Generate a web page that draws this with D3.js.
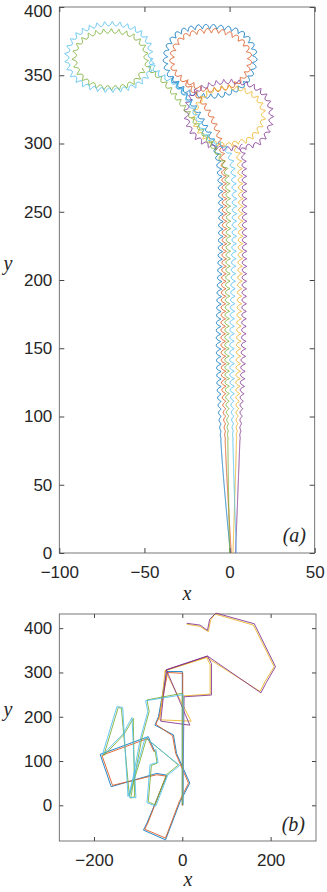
<!DOCTYPE html>
<html>
<head>
<meta charset="utf-8">
<script src="https://cdn.jsdelivr.net/npm/d3@7"></script>
<style>
    body { margin: 0; background: #fff; }
    svg { display: block; }
    .tick text { font-family: "Liberation Sans", Arial, sans-serif; font-size: 17px; fill: #262626; }
    .tick line { stroke: #444; }
    .domain { stroke: none; }
    .lbl { font-family: "Liberation Serif", "DejaVu Serif", serif; font-style: italic; font-size: 20px; fill: #262626; }
</style>
</head>
<body>
<svg id="chart" width="327" height="892"></svg>
<script>
// MATLAB default line colours, plot order
const colors = ["#0072BD", "#D95319", "#EDB120", "#7E2F8E", "#77AC30", "#4DBEEE"];

// panel (a): x, y points read along each trajectory (first point = start)
const aBlue = [[0.5, 0], [-5, 80], [-6.5, 150], [-7, 290], [-15, 315], [-24, 333], [-31, 343], [-37, 355], [-37, 368], [-31, 380], [-20, 385], [-5, 385], [7, 381], [14, 370], [14, 355], [8, 343], [-3, 336], [-15, 335], [-26, 339], [-33, 348]];
const aOrange = [[1, 0], [-2.5, 80], [-3.7, 150], [-4.5, 295], [-10, 318], [-18, 334], [-26, 345], [-33, 355], [-33, 368], [-27, 378], [-17, 382], [-5, 382], [5, 377], [11, 368], [11, 355], [5, 345], [-5, 340], [-16, 340], [-25, 346]];
const aYellow = [[2, 0], [4, 80], [5.3, 150], [5.5, 290], [3, 300], [10, 302], [17, 310], [20, 320], [17, 332], [8, 339.5], [-3, 341], [-13, 337], [-19, 328], [-21, 318], [-16, 306], [-8, 300], [2, 299]];
const aPurple = [[3.5, 0], [6, 80], [8.2, 150], [8.5, 288], [8, 296], [17, 300], [23, 310], [24.5, 322], [21, 335], [12, 343], [0, 345.5], [-12, 343], [-22, 336], [-25.5, 322], [-22, 308], [-13, 299], [-1, 296], [8, 298]];
const aGreen = [[0, 0], [-1, 80], [-1.5, 150], [-2, 280], [-5, 289], [-11, 300], [-25, 324], [-39, 346], [-48, 357], [-50, 370], [-57, 379], [-70, 382.5], [-83, 379], [-90, 370], [-91, 360], [-87, 349], [-78, 342], [-65, 341], [-55, 346], [-50, 355]];
const aCyan = [[4, 0], [2, 80], [1.4, 150], [1.5, 285], [-2.5, 297], [-13, 305], [-20, 322], [-30, 342], [-42, 352], [-46, 360], [-47, 372], [-53, 382], [-65, 387.5], [-80, 386], [-91, 378], [-95.6, 365], [-93, 351], [-84, 342], [-70, 339], [-56, 342], [-48, 350], [-45, 362]];

// panel (b)
const bBlue = [[0, 0], [0, 302], [-35, 302], [-45, 250], [-54, 200], [-62, 181], [-20, 159], [-13, 117], [17, 50], [-5, 8], [-38, -78], [-88, -56], [-80, -40], [-35, 68], [-58, 72], [-161, 42], [-186, 115], [-77, 155], [-62, 121]];
const bOrange = [[1, 0], [1, 298], [-33, 300], [-43, 250], [-52, 200], [-60, 183], [-22, 157], [-15, 117], [14, 50], [-7, 8], [-38, -74], [-85, -54], [-78, -40], [-37, 66], [-58, 69], [-158, 45], [-182, 113], [-78, 151], [-64, 121]];
const bYellow = [[0, 0], [2, 247], [63, 251], [63, 318], [55, 334], [-39, 304], [-51, 193], [20, 190], [-39, 304], [55, 334], [176, 257], [187, 279], [208, 313], [161, 407], [74, 432], [64, 418], [59, 392], [40, 404], [10, 409]];
const bPurple = [[1, 0], [4, 245], [66, 249], [66, 320], [57, 337], [-36, 306], [-49, 190], [17, 181], [-36, 306], [57, 337], [178, 254], [190, 277], [211, 313], [163, 410], [76, 434], [62, 420], [57, 395], [40, 407], [10, 411]];
const bGreen = [[0, 0], [0, 253], [-80, 238], [-75, 212], [-92, 150], [-117, 16], [-108, 20], [-111, 196], [-132, 160], [-178, 112], [-145, 221], [-138, 219], [-120, 22], [-96, 100], [-81, 151], [-9, 91], [-35, 70], [-62, 1], [-77, 8], [-70, 90], [-57, 95], [-62, 125]];
const bCyan = [[2, 2], [2, 250], [-83, 236], [-78, 212], [-95, 150], [-120, 18], [-105, 17], [-114, 198], [-135, 160], [-181, 114], [-148, 223], [-135, 221], [-123, 20], [-99, 100], [-84, 153], [-6, 90], [-33, 68], [-60, -2], [-80, 6], [-73, 92], [-55, 97], [-60, 127]];

const seriesA = [aBlue, aOrange, aYellow, aPurple, aGreen, aCyan];
const seriesB = [bBlue, bOrange, bYellow, bPurple, bGreen, bCyan];

const xTicksA = [-100, -50, 0, 50];
const yTicksA = [0, 50, 100, 150, 200, 250, 300, 350, 400];
const xTicksB = [-200, 0, 200];
const yTicksB = [0, 100, 200, 300, 400];

const svg = d3.select("#chart");

function drawAxes(g, x, y, xt, yt, tick) {
    const [x0, x1] = x.range(), [y0, y1] = y.range();
    g.append("g").attr("transform", `translate(0,${y0})`)
        .call(d3.axisBottom(x).tickValues(xt).tickSizeInner(-tick).tickSizeOuter(0).tickPadding(13).tickFormat(d3.format("d")));
    g.append("g").attr("transform", `translate(0,${y1})`)
        .call(d3.axisTop(x).tickValues(xt).tickSizeInner(-tick).tickSizeOuter(0).tickFormat(""));
    const left = g.append("g").attr("transform", `translate(${x0},0)`)
        .call(d3.axisLeft(y).tickValues(yt).tickSizeInner(-tick).tickSizeOuter(0).tickPadding(7).tickFormat(d3.format("d")));
    // keep a label sitting on the top edge of the page inside it
    left.selectAll(".tick text").filter(function () {
        return this.getBoundingClientRect().top < 1;
    }).attr("dy", "0.58em");
    g.append("g").attr("transform", `translate(${x1},0)`)
        .call(d3.axisRight(y).tickValues(yt).tickSizeInner(-tick).tickSizeOuter(0).tickFormat(""));
    g.append("rect").attr("x", x0).attr("y", y1).attr("width", x1 - x0).attr("height", y0 - y1)
        .attr("fill", "none").attr("stroke", "#555").attr("stroke-width", 0.8);
}

// wavy stroke along a smoothed trajectory (the line style of panel a)
function wavy(pts, x, y, lambda, amp) {
    const smooth = d3.line().x(d => x(d[0])).y(d => y(d[1])).curve(d3.curveCatmullRom.alpha(0.5));
    const tmp = svg.append("path").attr("d", smooth(pts));
    const node = tmp.node();
    const L = node.getTotalLength();
    const s0 = Math.hypot(x(pts[1][0]) - x(pts[0][0]), y(pts[1][1]) - y(pts[0][1]));
    const out = [];
    for (let s = 0; s <= L; s += 0.5) {
        const p = node.getPointAtLength(s);
        const a = node.getPointAtLength(Math.max(0, s - 0.6));
        const b = node.getPointAtLength(Math.min(L, s + 0.6));
        let tx = b.x - a.x, ty = b.y - a.y;
        const n = Math.hypot(tx, ty) || 1;
        tx /= n; ty /= n;
        const r = amp * Math.max(0, Math.min(1, (s - s0) / 60));
        const ph = 2 * Math.PI * s / lambda;
        out.push([p.x - ty * r * Math.sin(ph) + tx * r * 0.3 * Math.cos(ph),
                  p.y + tx * r * Math.sin(ph) + ty * r * 0.3 * Math.cos(ph)]);
    }
    tmp.remove();
    return d3.line()(out);
}

// ---- panel (a)
const xA = d3.scaleLinear().domain([-100, 50]).range([59.3, 314.7]);
const yA = d3.scaleLinear().domain([0, 400]).range([553, 7]);
svg.append("clipPath").attr("id", "clipA").append("rect")
    .attr("x", 59.3).attr("y", 7).attr("width", 314.7 - 59.3).attr("height", 546);
const gA = svg.append("g");
drawAxes(gA, xA, yA, xTicksA, yTicksA, 5);
gA.append("g").attr("clip-path", "url(#clipA)").selectAll("path")
    .data(seriesA).join("path")
    .attr("d", d => wavy(d, xA, yA, 7.5, 2.2))
    .attr("fill", "none")
    .attr("stroke", (d, i) => colors[i])
    .attr("stroke-width", 0.85)
    .attr("stroke-linejoin", "round");

gA.append("text").attr("class", "lbl").attr("x", 187).attr("y", 600).attr("text-anchor", "middle").text("x");
gA.append("text").attr("class", "lbl").attr("x", 8).attr("y", 270).attr("text-anchor", "middle").text("y");
gA.append("text").attr("class", "lbl").attr("x", 306).attr("y", 542).attr("text-anchor", "end").text("(a)");

// ---- panel (b)
const xB = d3.scaleLinear().domain([-278.5, 302.7]).range([59.3, 316]);
const yB = d3.scaleLinear().domain([-80.6, 432]).range([841, 614]);
const gB = svg.append("g");
drawAxes(gB, xB, yB, xTicksB, yTicksB, 4);
const lineB = d3.line().x(d => xB(d[0])).y(d => yB(d[1]));
gB.append("g").selectAll("path")
    .data(seriesB).join("path")
    .attr("d", lineB)
    .attr("fill", "none")
    .attr("stroke", (d, i) => colors[i])
    .attr("stroke-width", 0.85)
    .attr("stroke-linejoin", "round");

gB.append("text").attr("class", "lbl").attr("x", 188).attr("y", 886).attr("text-anchor", "middle").text("x");
gB.append("text").attr("class", "lbl").attr("x", 8).attr("y", 716).attr("text-anchor", "middle").text("y");
gB.append("text").attr("class", "lbl").attr("x", 305).attr("y", 831).attr("text-anchor", "end").text("(b)");
</script>
</body>
</html>
